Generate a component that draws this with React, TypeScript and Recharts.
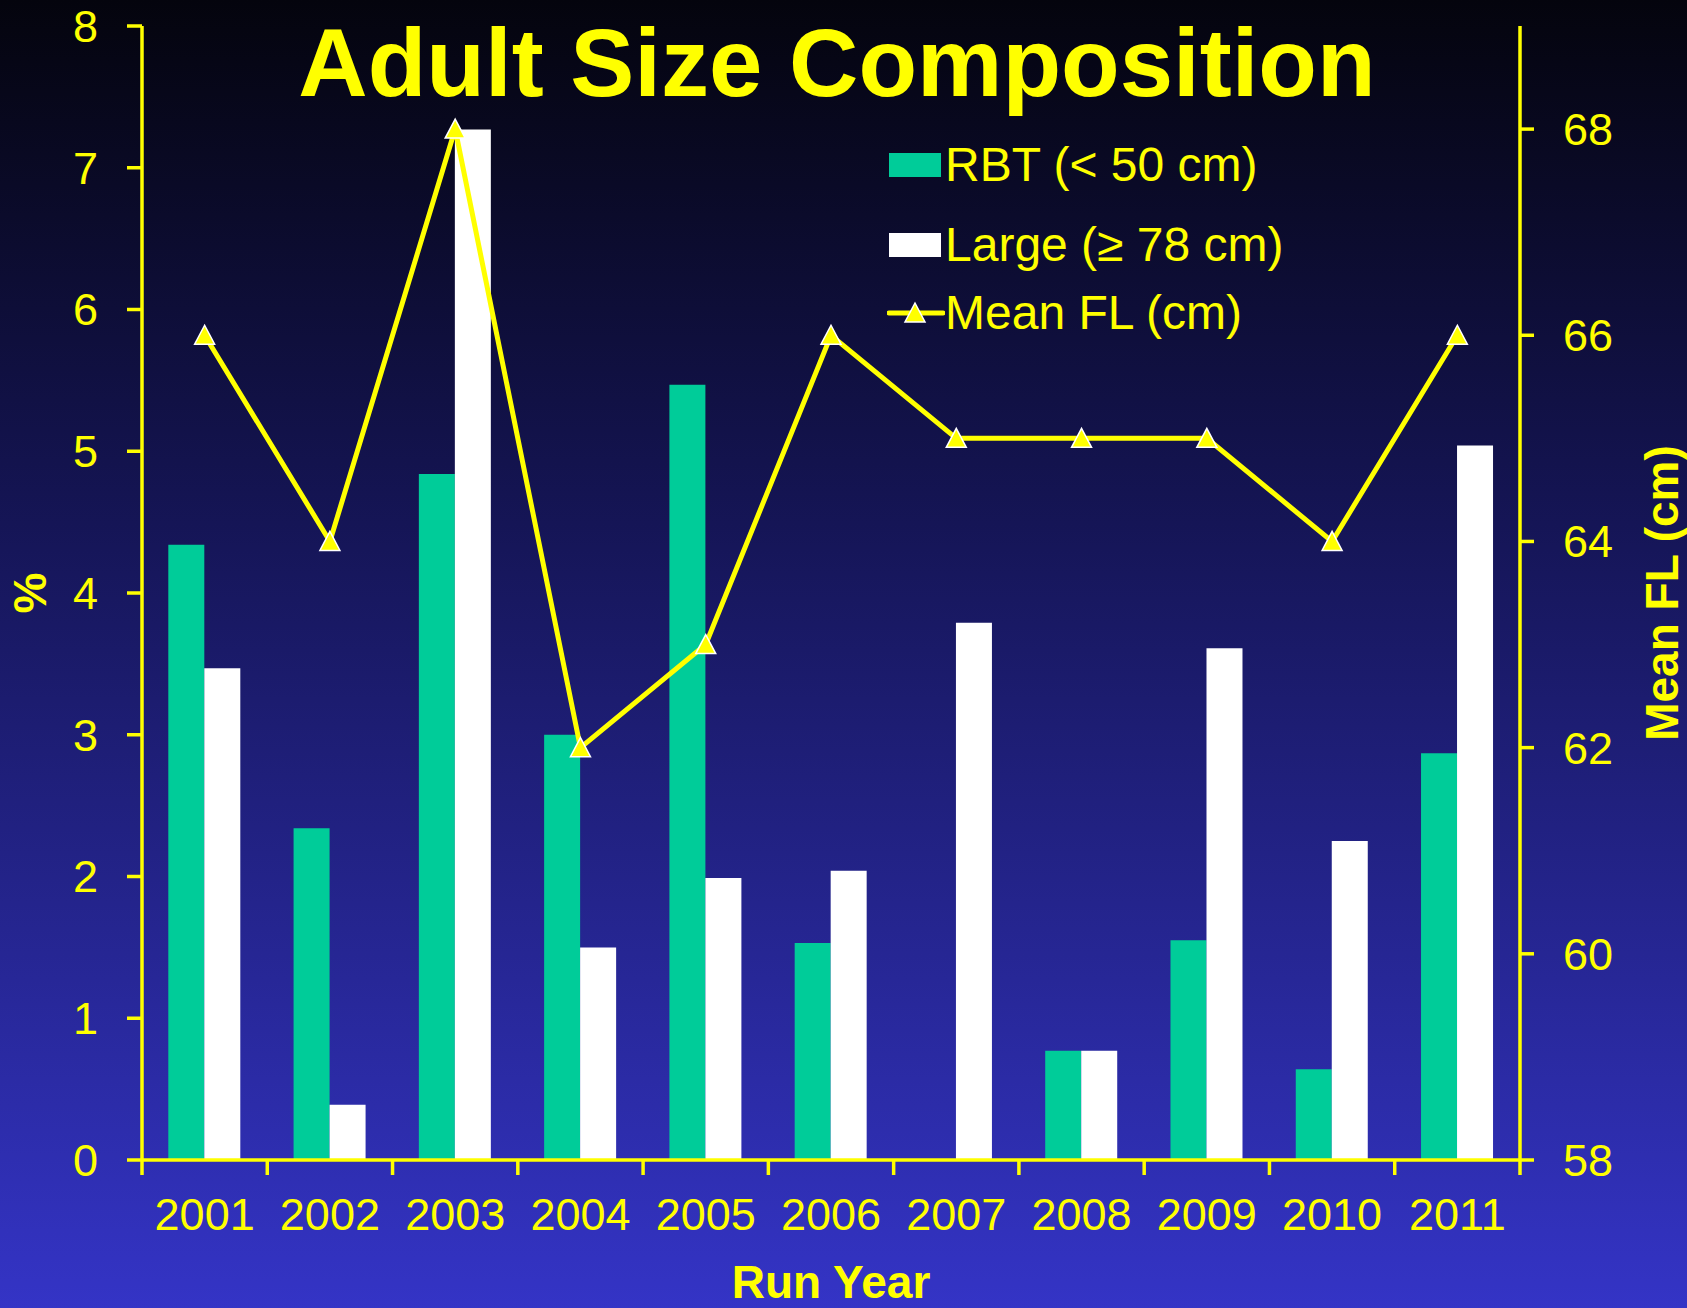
import React from "react";
import { Bar, ComposedChart, Legend, Line, XAxis, YAxis } from "recharts";

const years = ["2001", "2002", "2003", "2004", "2005", "2006", "2007", "2008", "2009", "2010", "2011"];
const rbtPct = [4.34, 2.34, 4.84, 3.0, 5.47, 1.53, 0, 0.77, 1.55, 0.64, 2.87];
const largePct = [3.47, 0.39, 7.27, 1.5, 1.99, 2.04, 3.79, 0.77, 3.61, 2.25, 5.04];
const meanFL = [66, 64, 68, 62, 63, 66, 65, 65, 65, 64, 66];
const pctTicks = [0, 1, 2, 3, 4, 5, 6, 7, 8];
const flTicks = [58, 60, 62, 64, 66, 68];
const legendOrder = ["rbt", "large", "mean"];

const data = years.map((year, i) => ({
  year,
  rbt: rbtPct[i],
  large: largePct[i],
  mean: meanFL[i],
}));

const W = 1687;
const H = 1308;
const LEFT_W = 142;
const RIGHT_W = 167;
const YELLOW = "#FFFF00";
const FONT = "'Liberation Sans', Arial, sans-serif";
const BAND = (W - LEFT_W - RIGHT_W) / years.length;
const X_TICK = 15;
const X_MARGIN = 23;
const AXIS_W = 3.5;

function YearTick(props: any) {
  const { x, y, payload, index } = props;
  const half = payload?.offset || BAND / 2;
  const top = y - X_TICK - X_MARGIN;
  return (
    <g>
      <line x1={x - half} x2={x - half} y1={top} y2={top + X_TICK} stroke={YELLOW} strokeWidth={AXIS_W} />
      {index === years.length - 1 && (
        <line x1={x + half} x2={x + half} y1={top} y2={top + X_TICK} stroke={YELLOW} strokeWidth={AXIS_W} />
      )}
      <text x={x} y={y} dy="0.71em" textAnchor="middle" fill={YELLOW} fontSize={45} fontFamily={FONT}>
        {payload.value}
      </text>
    </g>
  );
}

function TriangleDot(props: any) {
  const { cx, cy } = props;
  if (cx == null || cy == null) return null;
  return (
    <polygon
      points={`${cx},${cy - 10} ${cx - 10},${cy + 9} ${cx + 10},${cy + 9}`}
      fill={YELLOW}
      stroke="#FFFFFF"
      strokeWidth={1.5}
    />
  );
}

const rowTops = [0, 80, 148];

function LegendBox(props: any) {
  const items = [...(props.payload || [])].sort(
    (a: any, b: any) => legendOrder.indexOf(a.dataKey) - legendOrder.indexOf(b.dataKey)
  );
  return (
    <div style={{ position: "relative", width: 380, height: 200, fontFamily: FONT }}>
      {items.map((it: any, i: number) => (
        <div
          key={it.value}
          style={{ position: "absolute", left: 0, top: rowTops[i], height: 60, display: "flex", alignItems: "center" }}
        >
          <svg width={58} height={60} style={{ display: "block" }}>
            {it.type === "line" ? (
              <g>
                <line x1={2} x2={56} y1={30} y2={30} stroke={YELLOW} strokeWidth={5} strokeLinecap="round" />
                <TriangleDot cx={28} cy={30} />
              </g>
            ) : (
              <rect x={2} y={18} width={52} height={24} fill={it.color} />
            )}
          </svg>
          <span style={{ color: YELLOW, fontSize: 48, lineHeight: "60px", whiteSpace: "nowrap" }}>{it.value}</span>
        </div>
      ))}
    </div>
  );
}

export default function App() {
  return (
    <div
      style={{
        position: "absolute",
        left: 0,
        top: 0,
        width: W,
        height: H,
        overflow: "hidden",
        background: "linear-gradient(to bottom, #04040d 0%, #151556 40%, #3434c6 100%)",
        fontFamily: FONT,
      }}
    >
      <div
        style={{
          position: "absolute",
          left: 0,
          width: 1674,
          top: 15,
          textAlign: "center",
          color: YELLOW,
          fontSize: 96,
          fontWeight: "bold",
          lineHeight: "96px",
          zIndex: 2,
        }}
      >
        Adult Size Composition
      </div>
      <ComposedChart
        width={W}
        height={H}
        data={data}
        margin={{ top: 26, right: 0, bottom: 0, left: 0 }}
        barCategoryGap="21%"
        barGap={0}
      >
        <XAxis
          dataKey="year"
          height={148}
          axisLine={{ stroke: YELLOW, strokeWidth: AXIS_W }}
          tickLine={false}
          tickSize={X_TICK}
          tickMargin={X_MARGIN}
          tick={<YearTick />}
          interval={0}
          label={{
            content: ({ viewBox }: any) => (
              <text
                x={viewBox.x + viewBox.width / 2}
                y={viewBox.y + 138}
                textAnchor="middle"
                fill={YELLOW}
                fontSize={46}
                fontWeight="bold"
                fontFamily={FONT}
              >
                Run Year
              </text>
            ),
          }}
        />
        <YAxis
          yAxisId="left"
          orientation="left"
          width={LEFT_W}
          domain={[0, 8]}
          ticks={pctTicks}
          interval={0}
          axisLine={{ stroke: YELLOW, strokeWidth: AXIS_W }}
          tickLine={{ stroke: YELLOW, strokeWidth: AXIS_W }}
          tickSize={15}
          tickMargin={29}
          tick={{ fill: YELLOW, fontSize: 45, fontFamily: FONT }}
          label={{
            content: ({ viewBox }: any) => {
              const cy = viewBox.y + viewBox.height / 2;
              return (
                <text
                  x={30}
                  y={cy}
                  transform={`rotate(-90, 30, ${cy})`}
                  textAnchor="middle"
                  dominantBaseline="central"
                  fill={YELLOW}
                  fontSize={46}
                  fontWeight="bold"
                  fontFamily={FONT}
                >
                  %
                </text>
              );
            },
          }}
        />
        <YAxis
          yAxisId="right"
          orientation="right"
          width={RIGHT_W}
          domain={[58, 69]}
          ticks={flTicks}
          interval={0}
          axisLine={{ stroke: YELLOW, strokeWidth: AXIS_W }}
          tickLine={{ stroke: YELLOW, strokeWidth: AXIS_W }}
          tickSize={14}
          tickMargin={29}
          tick={{ fill: YELLOW, fontSize: 45, fontFamily: FONT }}
          label={{
            content: ({ viewBox }: any) => {
              const cy = viewBox.y + viewBox.height / 2;
              return (
                <text
                  x={1662}
                  y={cy}
                  transform={`rotate(-90, 1662, ${cy})`}
                  textAnchor="middle"
                  dominantBaseline="central"
                  fill={YELLOW}
                  fontSize={46}
                  fontWeight="bold"
                  fontFamily={FONT}
                >
                  Mean FL (cm)
                </text>
              );
            },
          }}
        />
        <Legend
          layout="vertical"
          align="center"
          verticalAlign="middle"
          wrapperStyle={{ left: 887, top: 135, width: 380, height: 200 }}
          content={<LegendBox />}
        />
        <Bar yAxisId="left" dataKey="rbt" name="RBT (< 50 cm)" fill="#00CC99" isAnimationActive={false} legendType="rect" />
        <Bar yAxisId="left" dataKey="large" name="Large (≥ 78 cm)" fill="#FFFFFF" isAnimationActive={false} legendType="rect" />
        <Line
          yAxisId="right"
          dataKey="mean"
          name="Mean FL (cm)"
          type="linear"
          stroke={YELLOW}
          strokeWidth={5}
          dot={<TriangleDot />}
          activeDot={false}
          isAnimationActive={false}
          legendType="line"
        />
      </ComposedChart>
    </div>
  );
}
